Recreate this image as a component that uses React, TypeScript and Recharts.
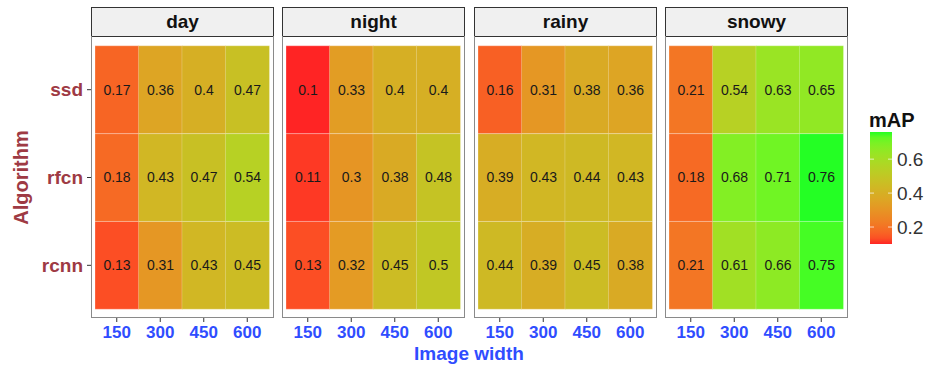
import React from 'react';
import { BarChart, Bar, XAxis, YAxis, Cell, LabelList } from 'recharts';

// facets, x categories and rows (bottom to top, as ggplot draws them)
const conditions = ['day', 'night', 'rainy', 'snowy'];
const widths = ['150', '300', '450', '600'];
const algorithms = ['rcnn', 'rfcn', 'ssd'];

// mAP per condition, one entry per image width
const ssdMap = [
    [0.17, 0.36, 0.4, 0.47],
    [0.1, 0.33, 0.4, 0.4],
    [0.16, 0.31, 0.38, 0.36],
    [0.21, 0.54, 0.63, 0.65],
];
const rfcnMap = [
    [0.18, 0.43, 0.47, 0.54],
    [0.11, 0.3, 0.38, 0.48],
    [0.39, 0.43, 0.44, 0.43],
    [0.18, 0.68, 0.71, 0.76],
];
const rcnnMap = [
    [0.13, 0.31, 0.43, 0.45],
    [0.13, 0.32, 0.45, 0.5],
    [0.44, 0.39, 0.45, 0.38],
    [0.21, 0.61, 0.66, 0.75],
];
const legendTicks = [0.2, 0.4, 0.6];

const allValues = [...ssdMap, ...rfcnMap, ...rcnnMap].flat();
const vMin = Math.min(...allValues);
const vMax = Math.max(...allValues);

// ---- Lab interpolation, like scale_fill_gradient(low = "red", high = "green")
const toLin = (c: number) => {
    c /= 255;
    return c <= 0.04045 ? c / 12.92 : Math.pow((c + 0.055) / 1.055, 2.4);
};
const fromLin = (c: number) => {
    const v = c <= 0.0031308 ? 12.92 * c : 1.055 * Math.pow(c, 1 / 2.4) - 0.055;
    return Math.round(Math.min(1, Math.max(0, v)) * 255);
};
const Xn = 0.95047, Yn = 1, Zn = 1.08883;
const f = (t: number) => (t > 0.008856 ? Math.cbrt(t) : 7.787 * t + 16 / 116);
const fi = (t: number) => (t * t * t > 0.008856 ? t * t * t : (t - 16 / 116) / 7.787);

const rgbToLab = (rgb: number[]) => {
    const [r, g, b] = rgb.map(toLin);
    const x = (0.4124 * r + 0.3576 * g + 0.1805 * b) / Xn;
    const y = (0.2126 * r + 0.7152 * g + 0.0722 * b) / Yn;
    const z = (0.0193 * r + 0.1192 * g + 0.9505 * b) / Zn;
    return [116 * f(y) - 16, 500 * (f(x) - f(y)), 200 * (f(y) - f(z))];
};
const labToHex = ([L, a, b]: number[]) => {
    const fy = (L + 16) / 116;
    const x = fi(fy + a / 500) * Xn;
    const y = fi(fy) * Yn;
    const z = fi(fy - b / 200) * Zn;
    const r = 3.2406 * x - 1.5372 * y - 0.4986 * z;
    const g = -0.9689 * x + 1.8758 * y + 0.0415 * z;
    const bb = 0.0557 * x - 0.204 * y + 1.057 * z;
    return '#' + [r, g, bb].map((c) => fromLin(c).toString(16).padStart(2, '0')).join('');
};

const lowLab = rgbToLab([255, 0, 0]);
const highLab = rgbToLab([0, 255, 0]);
const fillFor = (v: number) => {
    const t = (v - vMin) / (vMax - vMin);
    return labToHex(lowLab.map((l, i) => l + (highLab[i] - l) * t));
};

const FONT = '"Liberation Sans", Arial, sans-serif';
const TILE_ALPHA = 0.86;
const Y_COLOR = '#9E3A44';
const X_COLOR = '#2F4DFF';

const panelLeft = [91, 282, 474, 665];
const panelWidth = 183;
const stripTop = 7;
const stripHeight = 30;
const panelTop = 37;
const panelHeight = 281;

const Panel = ({ idx }: { idx: number }) => {
    const showY = idx === 0;
    const data = widths.map((w, i) => ({
        width: w,
        ssd: ssdMap[idx][i],
        rfcn: rfcnMap[idx][i],
        rcnn: rcnnMap[idx][i],
    }));
    const yAxisWidth = showY ? panelLeft[0] : 0;
    return (
        <BarChart
            width={yAxisWidth + panelWidth}
            height={panelHeight + 26}
            data={data}
            margin={{ top: 0, right: 0, bottom: 0, left: 0 }}
            barCategoryGap={0}
            style={{ position: 'absolute', left: panelLeft[idx] - yAxisWidth, top: panelTop }}
        >
            <XAxis
                dataKey="width"
                padding={{ left: 4, right: 5 }}
                axisLine={false}
                tickLine={{ stroke: '#333' }}
                tickSize={4}
                tickMargin={4}
                height={26}
                interval={0}
                tick={{ fill: X_COLOR, fontSize: 17, fontWeight: 'bold', fontFamily: FONT }}
            />
            <YAxis
                type="number"
                domain={[-0.1, 3.1]}
                ticks={[0.5, 1.5, 2.5]}
                hide={!showY}
                width={yAxisWidth}
                axisLine={false}
                tickLine={{ stroke: '#333' }}
                tickSize={4}
                tickMargin={4}
                tickFormatter={(v) => algorithms[Math.floor(v)]}
                tick={{ fill: Y_COLOR, fontSize: 19, fontWeight: 'bold', fontFamily: FONT }}
                label={{
                    content: ({ viewBox }: any) => {
                        const cx = 21;
                        const cy = viewBox.y + viewBox.height / 2;
                        return (
                            <text
                                x={cx}
                                y={cy}
                                transform={`rotate(-90 ${cx} ${cy})`}
                                textAnchor="middle"
                                dominantBaseline="central"
                                fill={Y_COLOR}
                                fontSize={20}
                                fontWeight="bold"
                                fontFamily={FONT}
                            >
                                Algorithm
                            </text>
                        );
                    },
                }}
            />
            {algorithms.map((alg) => (
                <Bar
                    key={alg}
                    dataKey={() => 1}
                    stackId="tile"
                    isAnimationActive={false}
                >
                    {data.map((d: any, i) => (
                        <Cell
                            key={i}
                            fill={fillFor(d[alg])}
                            fillOpacity={TILE_ALPHA}
                            stroke="#ffffff"
                            strokeOpacity={0.45}
                            strokeWidth={0.6}
                        />
                    ))}
                    <LabelList
                        dataKey={alg}
                        position="center"
                        fill="#1a1a1a"
                        fontSize={14}
                        fontFamily={FONT}
                    />
                </Bar>
            ))}
        </BarChart>
    );
};

const Legend = () => {
    const barX = 870;
    const barTop = 132;
    const barBottom = 244;
    const barW = 22;
    const yFor = (v: number) => barBottom - ((v - vMin) / (vMax - vMin)) * (barBottom - barTop);
    const stops = Array.from({ length: 21 }, (_, i) => i / 20);
    return (
        <svg width={930} height={367} style={{ position: 'absolute', left: 0, top: 0, pointerEvents: 'none' }}>
            <defs>
                <linearGradient id="mapGrad" x1="0" y1="1" x2="0" y2="0">
                    {stops.map((t) => (
                        <stop key={t} offset={t} stopColor={fillFor(vMin + t * (vMax - vMin))} stopOpacity={TILE_ALPHA} />
                    ))}
                </linearGradient>
            </defs>
            <text x={barX - 1} y={127} fontSize={20} fontWeight="bold" fontFamily={FONT} fill="#111">
                mAP
            </text>
            <rect x={barX} y={barTop} width={barW} height={barBottom - barTop} fill="url(#mapGrad)" />
            {legendTicks.map((t) => (
                <g key={t}>
                    <line x1={barX} x2={barX + 4} y1={yFor(t)} y2={yFor(t)} stroke="#fff" strokeOpacity={0.7} />
                    <line x1={barX + barW - 4} x2={barX + barW} y1={yFor(t)} y2={yFor(t)} stroke="#fff" strokeOpacity={0.7} />
                    <text x={barX + 27} y={yFor(t)} dominantBaseline="central" fontSize={19} fontFamily={FONT} fill="#333">
                        {t}
                    </text>
                </g>
            ))}
            <text x={469} y={360} textAnchor="middle" fontSize={19} fontWeight="bold" fontFamily={FONT} fill={X_COLOR}>
                Image width
            </text>
        </svg>
    );
};

const App = () => {
    return (
        <div style={{ position: 'absolute', left: 0, top: 0, width: 930, height: 367, background: '#fff', fontFamily: FONT }}>
            {conditions.map((c, i) => (
                <React.Fragment key={c}>
                    <div
                        style={{
                            position: 'absolute',
                            left: panelLeft[i],
                            top: stripTop,
                            width: panelWidth,
                            height: stripHeight,
                            boxSizing: 'border-box',
                            border: '1.3px solid #333',
                            background: '#F0F0F0',
                            textAlign: 'center',
                            lineHeight: `${stripHeight - 3}px`,
                            fontSize: 19,
                            fontWeight: 'bold',
                            color: '#111',
                        }}
                    >
                        {c}
                    </div>
                    <Panel idx={i} />
                    <div
                        style={{
                            position: 'absolute',
                            left: panelLeft[i],
                            top: panelTop - 1,
                            width: panelWidth,
                            height: panelHeight + 1,
                            boxSizing: 'border-box',
                            border: '1.3px solid #8a8a8a',
                            borderTop: 'none',
                            pointerEvents: 'none',
                        }}
                    />
                </React.Fragment>
            ))}
            <Legend />
        </div>
    );
};

export default App;
